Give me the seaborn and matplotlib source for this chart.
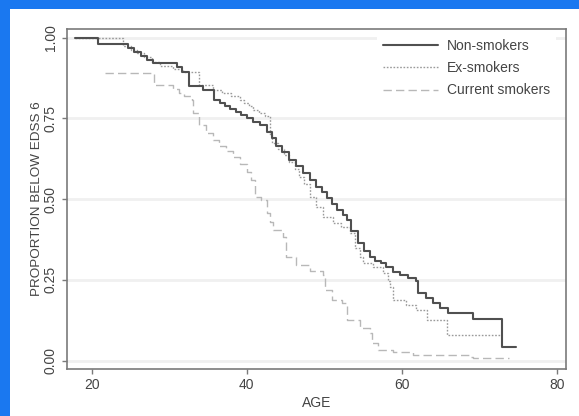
import matplotlib
matplotlib.use("Agg")
import matplotlib.pyplot as plt
from matplotlib.patches import Rectangle
from matplotlib.lines import Line2D
import seaborn as sns
import pandas as pd

# Kaplan-Meier style step estimates: age at which each level starts, and proportion below EDSS 6
non_age = [17.8, 20.8, 24.7, 25.5, 26.3, 27.1, 27.9, 31.0, 31.7, 32.5, 34.4, 35.8, 36.5, 37.2,
           37.9, 38.6, 39.3, 40.0, 40.8, 41.7, 42.6, 43.2, 43.8, 44.6, 45.5, 46.3, 47.2, 48.1,
           49.0, 49.7, 50.3, 51.0, 51.6, 52.4, 53.0, 53.4, 54.3, 55.1, 55.9, 56.6, 57.3, 58.0,
           58.9, 59.8, 60.8, 61.9, 62.1, 63.1, 64.0, 65.0, 66.0, 69.2, 73.0, 74.8]
non_prop = [1.000, 0.979, 0.968, 0.955, 0.943, 0.932, 0.921, 0.908, 0.895, 0.849, 0.838, 0.808,
            0.798, 0.789, 0.779, 0.770, 0.760, 0.750, 0.740, 0.730, 0.709, 0.690, 0.665, 0.645,
            0.622, 0.602, 0.581, 0.560, 0.539, 0.521, 0.503, 0.485, 0.467, 0.450, 0.436, 0.400,
            0.364, 0.340, 0.322, 0.310, 0.302, 0.290, 0.275, 0.265, 0.257, 0.246, 0.209, 0.194,
            0.179, 0.164, 0.148, 0.130, 0.042, 0.042]

ex_age = [17.8, 24.0, 25.0, 25.8, 26.8, 27.8, 28.8, 30.5, 31.8, 33.9, 35.6, 36.8, 38.0, 39.1,
          39.7, 40.3, 40.8, 41.6, 42.3, 43.0, 43.3, 44.0, 44.8, 45.5, 46.2, 46.8, 47.4, 48.1,
          48.9, 49.8, 51.1, 52.2, 53.3, 54.0, 54.6, 55.0, 56.3, 57.6, 58.2, 58.5, 58.9, 60.5,
          61.9, 63.2, 65.9, 73.0]
ex_prop = [1.000, 0.973, 0.962, 0.953, 0.940, 0.925, 0.911, 0.903, 0.895, 0.854, 0.838, 0.828,
           0.818, 0.808, 0.797, 0.787, 0.777, 0.766, 0.757, 0.700, 0.674, 0.655, 0.636, 0.615,
           0.592, 0.569, 0.548, 0.507, 0.476, 0.445, 0.426, 0.415, 0.395, 0.350, 0.320, 0.302,
           0.290, 0.271, 0.245, 0.228, 0.188, 0.172, 0.157, 0.126, 0.078, 0.078]

cur_age = [21.7, 28.0, 30.5, 31.2, 31.9, 32.9, 33.0, 33.9, 34.7, 35.6, 36.4, 37.3, 38.2, 39.1,
           40.0, 40.5, 41.0, 41.1, 41.9, 42.6, 43.0, 43.4, 44.7, 45.1, 46.4, 48.1, 49.8, 50.1,
           51.0, 52.3, 52.9, 54.6, 55.9, 56.1, 56.9, 58.9, 61.4, 68.8, 69.2, 73.9]
cur_prop = [0.892, 0.854, 0.840, 0.830, 0.820, 0.808, 0.767, 0.730, 0.705, 0.684, 0.665, 0.648,
            0.631, 0.610, 0.585, 0.560, 0.538, 0.507, 0.498, 0.457, 0.430, 0.405, 0.384, 0.322,
            0.296, 0.276, 0.265, 0.219, 0.188, 0.178, 0.126, 0.101, 0.085, 0.055, 0.033, 0.027,
            0.018, 0.012, 0.008, 0.008]

groups = ["Non-smokers", "Ex-smokers", "Current smokers"]
x_ticks = [20, 40, 60, 80]
y_ticks = [0.00, 0.25, 0.50, 0.75, 1.00]
y_ticklabels = ["0.00", "0.25", "0.50", "0.75", "1.00"]

sns.set_theme(style="white")
plt.rcParams["font.family"] = ["Liberation Sans", "DejaVu Sans"]

fig = plt.figure(figsize=(5.79, 4.16), dpi=100)
fig.patch.set_facecolor("#1a78f0")
# white page inset on the blue background
fig.add_artist(Rectangle((10 / 579, 0), 1, (416 - 9) / 416, transform=fig.transFigure,
                         facecolor="white", edgecolor="none", zorder=-10))

ax = fig.add_axes([67 / 579, (416 - 369) / 416, (566 - 67) / 579, (369 - 29) / 416])
ax.set_zorder(5)
ax.set_facecolor("white")

styles = {
    "Non-smokers": dict(color="#505050", lw=1.5, ls="-"),
    "Ex-smokers": dict(color="#9a9a9a", lw=1.0, ls=(0, (1.2, 1.2))),
    "Current smokers": dict(color="#b8b8b8", lw=1.0, ls=(0, (6, 3))),
}
series = {
    "Non-smokers": (non_age, non_prop),
    "Ex-smokers": (ex_age, ex_prop),
    "Current smokers": (cur_age, cur_prop),
}

for g in groups[::-1]:
    a, p = series[g]
    df = pd.DataFrame({"AGE": a, "prop": p})
    st = styles[g]
    sns.lineplot(data=df, x="AGE", y="prop", ax=ax, estimator=None, sort=True,
                 drawstyle="steps-post", color=st["color"], linewidth=st["lw"],
                 linestyle=st["ls"], legend=False)

ax.set_xlim(16.8, 81.2)
ax.set_ylim(-0.026, 1.027)
ax.set_xticks(x_ticks)
ax.set_yticks(y_ticks)
ax.set_yticklabels(y_ticklabels, rotation=90, va="center")
for yv in y_ticks:
    ax.axhline(yv, color="#f0f0f0", lw=2.0, zorder=0)

for s in ax.spines.values():
    s.set_color("#7a7a7a")
    s.set_linewidth(1.2)
ax.tick_params(axis="both", direction="out", length=3.5, width=1.0, color="#7a7a7a",
               labelsize=10, labelcolor="#444444", pad=3, left=True, bottom=True)

ax.set_xlabel("AGE", fontsize=10, color="#444444", labelpad=3)
ax.set_ylabel("PROPORTION BELOW EDSS 6", fontsize=9.7, color="#444444", labelpad=1)

handles = [Line2D([], [], color=styles[g]["color"], lw=styles[g]["lw"], ls=styles[g]["ls"])
           for g in groups]
leg = ax.legend(handles, groups, loc="upper right", bbox_to_anchor=(1 - 6 / 499, 1.0),
                fontsize=10, frameon=True, facecolor="white", edgecolor="none",
                framealpha=1.0, handlelength=4.0, handletextpad=0.65, labelspacing=0.6,
                borderaxespad=0.3, borderpad=0.4)
for t in leg.get_texts():
    t.set_color("#444444")

fig.savefig("out.png", dpi=100, facecolor=fig.get_facecolor())
